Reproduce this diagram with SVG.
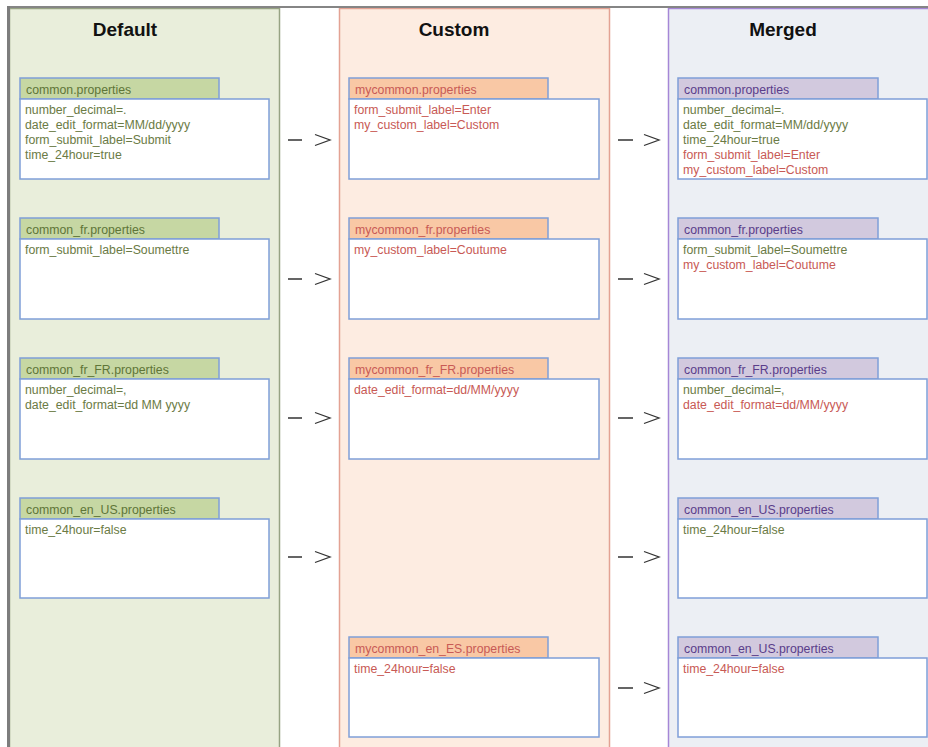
<svg xmlns="http://www.w3.org/2000/svg" width="928" height="747" viewBox="0 0 928 747">
<style>
text{font-family:"Liberation Sans",Arial,sans-serif}
.title{font-size:19px;font-weight:bold;fill:#111;text-anchor:middle}
.t{font-size:12.3px}
.g{fill:#6b7b45}
.r{fill:#c85a55}
.tg{fill:#5e7538}
.tp{fill:#5a3d8a}
.tab{stroke:#7f9fd8;stroke-width:1.5}
.tabG{fill:#c6d7a3}
.tabC{fill:#f9c8a5}
.tabM{fill:#d2c9de}
.body{fill:#fff;stroke:#7f9fd8;stroke-width:1.5}
.arr{fill:none;stroke:#333;stroke-width:1.3}
</style>
<rect width="928" height="747" fill="#fff"/>
<g id="col-default">
<rect x="9.5" y="8.5" width="270" height="745" fill="#e9eedb" stroke="#97a383" stroke-width="1.5"/>
<text class="title" x="125" y="36">Default</text>
</g>
<g id="col-custom">
<rect x="339.5" y="8.5" width="270" height="745" fill="#fdece1" stroke="#e3a293" stroke-width="1.5"/>
<text class="title" x="454" y="36">Custom</text>
</g>
<g id="col-merged">
<rect x="668.5" y="8.5" width="290" height="745" fill="#eceff4" stroke="#a587d6" stroke-width="1.5"/>
<text class="title" x="783" y="36">Merged</text>
</g>
<path d="M7,7 H928" stroke="#858585" stroke-width="2"/>
<path d="M8.5,6 V747" stroke="#7d7d7d" stroke-width="3"/>

<g id="d1"><rect class="tab tabG" x="20" y="78" width="199" height="21"/><rect class="body" x="20" y="99" width="249" height="80"/>
<text class="t tg" x="26" y="94">common.properties</text>
<text class="t g" x="25" y="114">number_decimal=.</text><text class="t g" x="25" y="129">date_edit_format=MM/dd/yyyy</text><text class="t g" x="25" y="144">form_submit_label=Submit</text><text class="t g" x="25" y="159">time_24hour=true</text></g>
<g id="d2"><rect class="tab tabG" x="20" y="218" width="199" height="21"/><rect class="body" x="20" y="239" width="249" height="80"/>
<text class="t tg" x="26" y="234">common_fr.properties</text>
<text class="t g" x="25" y="254">form_submit_label=Soumettre</text></g>
<g id="d3"><rect class="tab tabG" x="20" y="358" width="199" height="21"/><rect class="body" x="20" y="379" width="249" height="80"/>
<text class="t tg" x="26" y="374">common_fr_FR.properties</text>
<text class="t g" x="25" y="394">number_decimal=,</text><text class="t g" x="25" y="409">date_edit_format=dd MM yyyy</text></g>
<g id="d4"><rect class="tab tabG" x="20" y="498" width="199" height="21"/><rect class="body" x="20" y="519" width="249" height="79"/>
<text class="t tg" x="26" y="514">common_en_US.properties</text>
<text class="t g" x="25" y="534">time_24hour=false</text></g>

<g id="c1"><rect class="tab tabC" x="349" y="78" width="199" height="21"/><rect class="body" x="349" y="99" width="250" height="80"/>
<text class="t r" x="355" y="94">mycommon.properties</text>
<text class="t r" x="354" y="114">form_submit_label=Enter</text><text class="t r" x="354" y="129">my_custom_label=Custom</text></g>
<g id="c2"><rect class="tab tabC" x="349" y="218" width="199" height="21"/><rect class="body" x="349" y="239" width="250" height="80"/>
<text class="t r" x="355" y="234">mycommon_fr.properties</text>
<text class="t r" x="354" y="254">my_custom_label=Coutume</text></g>
<g id="c3"><rect class="tab tabC" x="349" y="358" width="199" height="21"/><rect class="body" x="349" y="379" width="250" height="80"/>
<text class="t r" x="355" y="374">mycommon_fr_FR.properties</text>
<text class="t r" x="354" y="394">date_edit_format=dd/MM/yyyy</text></g>
<g id="c5"><rect class="tab tabC" x="349" y="637" width="199" height="21"/><rect class="body" x="349" y="658" width="250" height="79"/>
<text class="t r" x="355" y="653">mycommon_en_ES.properties</text>
<text class="t r" x="354" y="673">time_24hour=false</text></g>

<g id="m1"><rect class="tab tabM" x="678" y="78" width="200" height="21"/><rect class="body" x="678" y="99" width="249" height="80"/>
<text class="t tp" x="684" y="94">common.properties</text>
<text class="t g" x="683" y="114">number_decimal=.</text><text class="t g" x="683" y="129">date_edit_format=MM/dd/yyyy</text><text class="t g" x="683" y="144">time_24hour=true</text><text class="t r" x="683" y="159">form_submit_label=Enter</text><text class="t r" x="683" y="174">my_custom_label=Custom</text></g>
<g id="m2"><rect class="tab tabM" x="678" y="218" width="200" height="21"/><rect class="body" x="678" y="239" width="249" height="80"/>
<text class="t tp" x="684" y="234">common_fr.properties</text>
<text class="t g" x="683" y="254">form_submit_label=Soumettre</text><text class="t r" x="683" y="269">my_custom_label=Coutume</text></g>
<g id="m3"><rect class="tab tabM" x="678" y="358" width="200" height="21"/><rect class="body" x="678" y="379" width="249" height="80"/>
<text class="t tp" x="684" y="374">common_fr_FR.properties</text>
<text class="t g" x="683" y="394">number_decimal=,</text><text class="t r" x="683" y="409">date_edit_format=dd/MM/yyyy</text></g>
<g id="m4"><rect class="tab tabM" x="678" y="498" width="200" height="21"/><rect class="body" x="678" y="519" width="249" height="79"/>
<text class="t tp" x="684" y="514">common_en_US.properties</text>
<text class="t g" x="683" y="534">time_24hour=false</text></g>
<g id="m5"><rect class="tab tabM" x="678" y="637" width="200" height="21"/><rect class="body" x="678" y="658" width="249" height="79"/>
<text class="t tp" x="684" y="653">common_en_US.properties</text>
<text class="t r" x="683" y="673">time_24hour=false</text></g>

<g id="connectors" class="arr">
<path d="M288,140 H302 M315,134.5 L330,140 L315,145.5"/>
<path d="M288,279 H302 M315,273.5 L330,279 L315,284.5"/>
<path d="M288,418 H302 M315,412.5 L330,418 L315,423.5"/>
<path d="M288,557 H302 M315,551.5 L330,557 L315,562.5"/>
<path d="M618,140 H633 M644,134.5 L659,140 L644,145.5"/>
<path d="M618,279 H633 M644,273.5 L659,279 L644,284.5"/>
<path d="M618,418 H633 M644,412.5 L659,418 L644,423.5"/>
<path d="M618,557 H633 M644,551.5 L659,557 L644,562.5"/>
<path d="M618,688 H633 M644,682.5 L659,688 L644,693.5"/>
</g>
</svg>
